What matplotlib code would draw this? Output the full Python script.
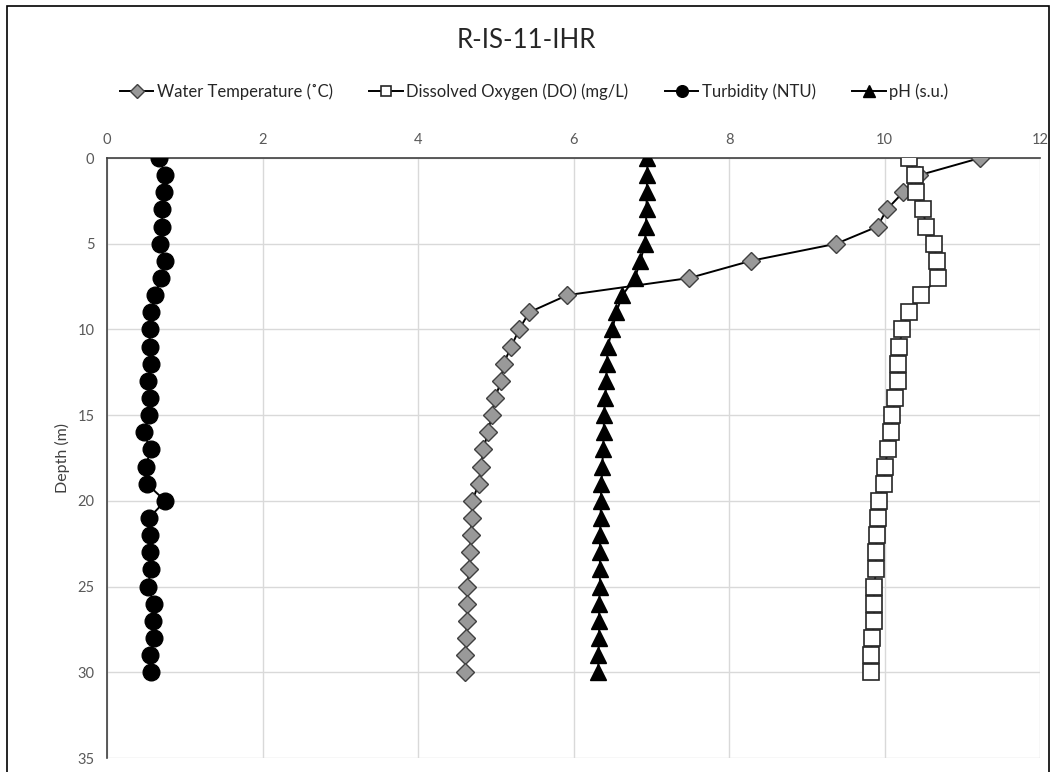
import matplotlib
matplotlib.use("Agg")
import matplotlib.pyplot as plt
from matplotlib.patches import Rectangle

depth = list(range(0, 31))
water_temp = [11.23, 10.45, 10.24, 10.03, 9.91, 9.38, 8.28, 7.49, 5.92, 5.43,
              5.30, 5.20, 5.10, 5.07, 4.99, 4.95, 4.90, 4.84, 4.81, 4.78,
              4.70, 4.69, 4.68, 4.67, 4.66, 4.63, 4.63, 4.63, 4.62, 4.61, 4.61]
dissolved_oxygen = [10.32, 10.39, 10.41, 10.50, 10.53, 10.64, 10.67, 10.69, 10.47, 10.31,
                    10.23, 10.19, 10.18, 10.17, 10.14, 10.10, 10.09, 10.04, 10.01, 9.99,
                    9.93, 9.92, 9.90, 9.89, 9.89, 9.87, 9.86, 9.87, 9.84, 9.83, 9.83]
turbidity = [0.67, 0.75, 0.73, 0.71, 0.71, 0.68, 0.74, 0.69, 0.62, 0.56,
             0.55, 0.55, 0.56, 0.53, 0.55, 0.54, 0.47, 0.56, 0.50, 0.51,
             0.75, 0.54, 0.55, 0.55, 0.56, 0.53, 0.60, 0.59, 0.60, 0.55, 0.56]
ph = [6.95, 6.95, 6.94, 6.94, 6.93, 6.92, 6.86, 6.79, 6.63, 6.55,
      6.50, 6.44, 6.43, 6.42, 6.41, 6.39, 6.39, 6.38, 6.37, 6.36,
      6.35, 6.35, 6.34, 6.34, 6.34, 6.34, 6.33, 6.33, 6.33, 6.32, 6.32]

labels = ["Water Temperature (˚C)", "Dissolved Oxygen (DO) (mg/L)",
          "Turbidity (NTU)", "pH (s.u.)"]
title = "R-IS-11-IHR"
x_ticks = [0, 2, 4, 6, 8, 10, 12]
y_ticks = [0, 5, 10, 15, 20, 25, 30, 35]

plt.rcParams['font.family'] = ['Lato', 'DejaVu Sans']

W, H = 1052, 772
fig = plt.figure(figsize=(W / 100, H / 100), dpi=100)
ax = fig.add_axes([107 / W, (H - 758) / H, (1040 - 107) / W, (758 - 158) / H])

h1, = ax.plot(water_temp, depth, '-', color='black', lw=1.4, marker='D', ms=9.5,
              mfc='#999999', mec='#404040', mew=1.0, zorder=4)
h2, = ax.plot(dissolved_oxygen, depth, '-', color='black', lw=1.4, marker='s', ms=11,
              mfc='white', mec='#262626', mew=1.2, zorder=5)
h3, = ax.plot(turbidity, depth, '-', color='black', lw=1.4, marker='o', ms=12,
              mfc='black', mec='black', zorder=6)
h4, = ax.plot(ph, depth, '-', color='black', lw=1.4, marker='^', ms=12,
              mfc='black', mec='black', zorder=3)

ax.set_xlim(0, 12)
ax.set_ylim(35, 0)
ax.set_xticks(x_ticks)
ax.set_yticks(y_ticks)
ax.xaxis.tick_top()
ax.tick_params(axis='both', length=0, labelsize=10.5, labelcolor='#595959')
ax.tick_params(axis='y', pad=9)
ax.tick_params(axis='x', pad=8)
ax.grid(True, color='#d9d9d9', lw=1.0, zorder=0)
ax.set_axisbelow(True)
for s in ['right', 'bottom']:
    ax.spines[s].set_visible(False)
for s in ['top', 'left']:
    ax.spines[s].set_color('#404040')
    ax.spines[s].set_linewidth(1.2)
    ax.spines[s].set_zorder(2)
ax.set_ylabel("Depth (m)", fontsize=11.5, color='#404040', labelpad=5)

fig.text(526 / W, 1 - 40 / H, title, ha='center', va='center', fontsize=18.5, color='#262626')

leg = fig.legend([h1, h2, h3, h4], labels, loc='center', bbox_to_anchor=(534 / W, 1 - 92 / H),
                 ncol=4, frameon=False, fontsize=12, handlelength=2.0, columnspacing=2.2,
                 handletextpad=0.2, markerscale=0.7)
for t in leg.get_texts():
    t.set_color('#262626')

fig.patches.append(Rectangle((7 / W, -0.05), (1049 - 7) / W, 1.05 - 6 / H,
                             transform=fig.transFigure, fill=False, edgecolor='black', lw=1.2))

fig.savefig("out.png", dpi=100, facecolor='white')
